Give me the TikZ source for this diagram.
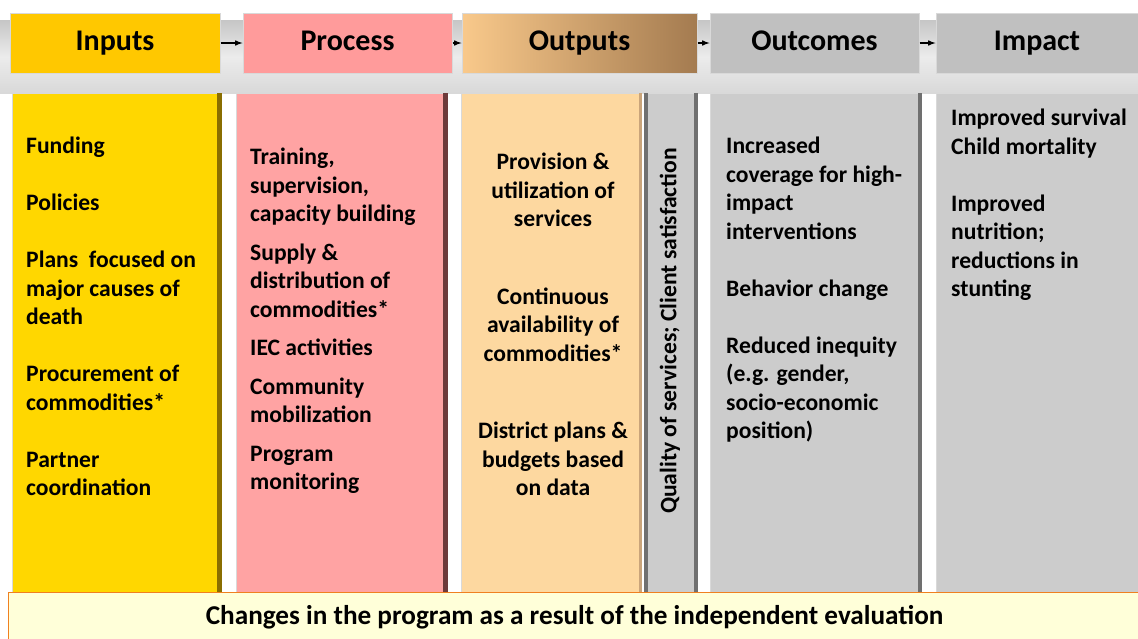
\documentclass[tikz,border=0pt]{standalone}
\usepackage{fontspec}
\setmainfont{Carlito}
\usetikzlibrary{arrows, positioning, calc}

\definecolor{inhead}{HTML}{FFC800}
\definecolor{inbody}{HTML}{FFD700}
\definecolor{inedge}{HTML}{8A6E00}
\definecolor{prhead}{HTML}{FF9B9B}
\definecolor{prbody}{HTML}{FFA3A3}
\definecolor{predge}{HTML}{6E3A3A}
\definecolor{outleft}{HTML}{F9C98B}
\definecolor{outright}{HTML}{A47B50}
\definecolor{outbody}{HTML}{FDD8A0}
\definecolor{outedge}{HTML}{C9A47A}
\definecolor{greyhead}{HTML}{C0C0C0}
\definecolor{greybody}{HTML}{CCCCCC}
\definecolor{greyedge}{HTML}{707070}
\definecolor{barfill}{HTML}{FFFFD9}
\definecolor{barline}{HTML}{F08020}

\tikzset{
    head/.style={draw=white!70!gray, line width=1pt, minimum height=60pt,
        inner sep=0pt, text height=20pt, text depth=6pt,
        font=\fontsize{30}{34}\selectfont\bfseries},
    body/.style={draw=white!70!gray, line width=0.8pt, anchor=north west,
        minimum height=507pt, inner sep=0pt},
    txt/.style={font=\fontsize{23.6}{28.5}\selectfont\bfseries, inner sep=0pt,
        align=left, anchor=north west, execute at begin node={\rule{0pt}{17pt}}}
}

\begin{document}
\begin{tikzpicture}[x=1pt, y=-1pt, >=latex]
    \useasboundingbox (0,0) rectangle (1138,638);
    % grey band behind the headers
    \shade[top color=gray!45, bottom color=gray!30, middle color=gray!15] (0,20) rectangle (1138,93);

    % headers
    \node[head, fill=inhead, minimum width=210pt] (inputs) at (115,43) {Inputs};
    \node[head, fill=prhead, minimum width=209pt] (process) at (347.5,43) {Process};
    \node[head, left color=outleft, right color=outright, minimum width=235pt] (outputs) at (579.5,43) {Outputs};
    \node[head, fill=greyhead, minimum width=209pt] (outcomes) at (814.5,43) {Outcomes};
    \node[head, fill=greyhead, minimum width=202pt] (impact) at (1037,43) {Impact};

    \draw[line width=1.5pt]
    (inputs) edge[->] (process)
    (process) edge[->] (outputs)
    (outputs) edge[->] (outcomes)
    (outcomes) edge[->] (impact);

    % columns
    \node[body, fill=inbody, minimum width=209pt] (inbox) at (12,93) {};
    \node[body, fill=prbody, minimum width=211pt] (prbox) at (236,93) {};
    \node[body, fill=outbody, minimum width=180pt] (outbox) at (461,93) {};
    \node[body, fill=greybody, minimum width=53pt] (qualbox) at (644,93) {};
    \node[body, fill=greybody, minimum width=211pt] (ocbox) at (710,93) {};
    \node[body, fill=greybody, minimum width=205pt] (imbox) at (936,93) {};

    \fill[inedge] ([xshift=-5pt]inbox.north east) rectangle (inbox.south east);
    \fill[predge] ([xshift=-5pt]prbox.north east) rectangle (prbox.south east);
    \fill[outedge] ([xshift=-3pt]outbox.north east) rectangle (outbox.south east);
    \fill[greyedge] (qualbox.north west) rectangle ([xshift=4pt]qualbox.south west);
    \fill[greyedge] ([xshift=-4pt]qualbox.north east) rectangle (qualbox.south east);
    \fill[greyedge] ([xshift=-4pt]ocbox.north east) rectangle (ocbox.south east);

    % column texts (first baseline 17pt below the anchor)
    \node[txt] (intext) at (26,137) {Funding\\[28.5pt]
        Policies\\[28.5pt]
        Plans\ \ focused on\\ major causes of\\ death\\[28.5pt]
        Procurement of\\ commodities*\\[28.5pt]
        Partner\\ coordination};
    \node[txt] (prtext) at (250,148) {Training,\\ supervision,\\ capacity building\\[10pt]
        Supply \&\\ distribution of\\ commodities*\\[10pt]
        IEC activities\\[10pt]
        Community\\ mobilization\\[10pt]
        Program\\ monitoring};
    \node[txt, align=center, anchor=north] (outtext) at (553,153) {Provision \&\\ utilization of\\ services\\[49pt]
        Continuous\\ availability of\\ commodities*\\[49pt]
        District plans \&\\ budgets based\\ on data};
    \node[font=\fontsize{23.6}{28.5}\selectfont\bfseries, inner sep=0pt, rotate=90] (qualtext) at (670,331) {Quality of services; Client satisfaction};
    \node[txt] (octext) at (726,137) {Increased\\ coverage for high-\\ impact\\ interventions\\[28.5pt]
        Behavior change\\[28.5pt]
        Reduced inequity\\ (e.g. gender,\\ socio-economic\\ position)};
    \node[txt] (imtext) at (951,109) {Improved survival\\ Child mortality\\[28.5pt]
        Improved\\ nutrition;\\ reductions in\\ stunting};

    % bottom bar
    \node[draw=barline, line width=1.2pt, fill=barfill, anchor=north west, minimum width=1132pt,
        minimum height=47pt, inner sep=0pt, text height=19pt, text depth=2pt,
        font=\fontsize{27.2}{30}\selectfont\bfseries] (changes) at (8,592)
        {Changes in the program as a result of the independent evaluation};
\end{tikzpicture}
\end{document}
